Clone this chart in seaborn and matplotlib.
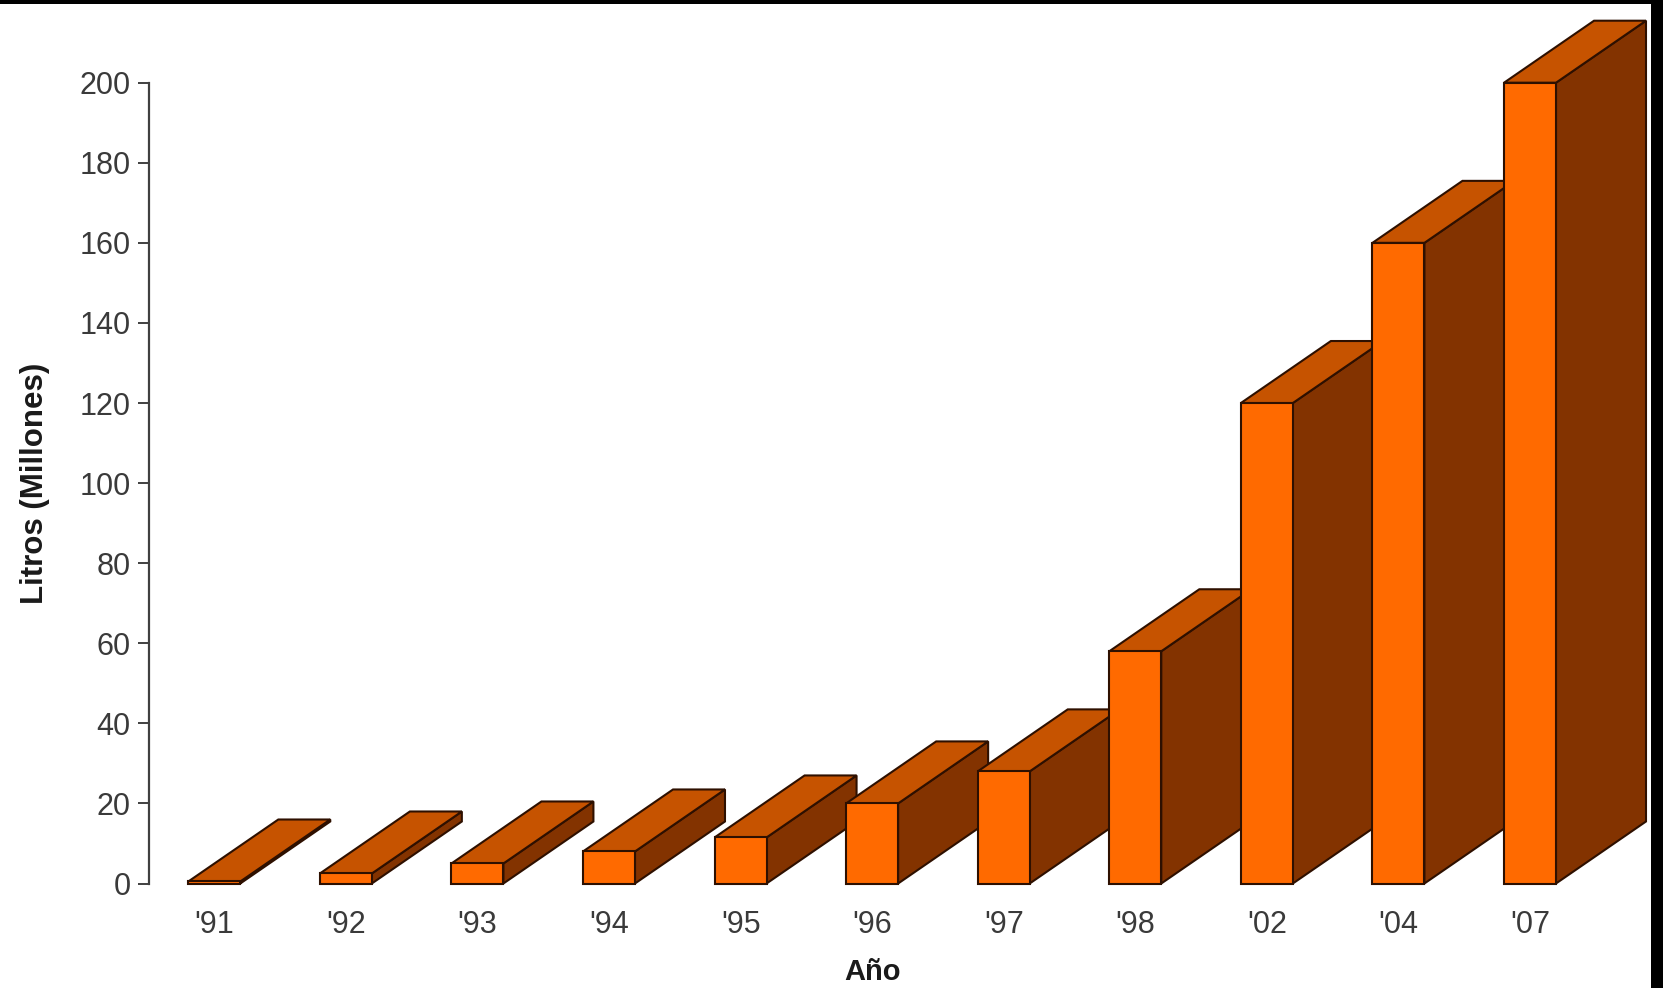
import matplotlib
matplotlib.use("Agg")
import matplotlib.pyplot as plt
import numpy as np
import pandas as pd
import seaborn as sns
from matplotlib.patches import Polygon, Rectangle

# Producción anual (millones de litros)
years = ["'91", "'92", "'93", "'94", "'95", "'96", "'97", "'98", "'02", "'04", "'07"]
litros = [0.5, 2.5, 5, 8, 11.5, 20, 28, 58, 120, 160, 200]
yticks = [0, 20, 40, 60, 80, 100, 120, 140, 160, 180, 200]

FRONT = "#FF6A00"
SIDE = "#833300"
TOP = "#C65300"
EDGE = "#2E1000"

sns.set_theme(style="white")
plt.rcParams["font.family"] = ["Liberation Sans", "DejaVu Sans"]

W, H, DPI = 1663, 988, 100
fig = plt.figure(figsize=(W / DPI, H / DPI), dpi=DPI)
fig.patch.set_facecolor("white")
ax = fig.add_axes([148.5 / W, 104.5 / H, 1447.3 / W, 800.8 / H])

df = pd.DataFrame({"Año": years, "Litros": litros})
sns.barplot(data=df, x="Año", y="Litros", color=FRONT, saturation=1,
            width=0.395, edgecolor=EDGE, linewidth=1.5, ax=ax)

ax.set_xlim(-0.5, len(years) - 0.5)
ax.set_ylim(0, 200)
ax.set_yticks(yticks)

# depth of the extruded boxes, given in pixels and converted to data units
depth_px = np.array([90.0, 62.0])
p0 = ax.transData.transform((0, 0))
p1 = ax.transData.transform((1, 1))
ddx, ddy = depth_px / (p1 - p0)

for i, bar in enumerate(ax.patches):
    x0 = bar.get_x()
    x1 = x0 + bar.get_width()
    h = bar.get_height()
    z = 2 + i * 0.1
    bar.set_zorder(z + 0.02)
    bar.set_clip_on(False)
    side = Polygon([(x1, 0), (x1, h), (x1 + ddx, h + ddy), (x1 + ddx, ddy)],
                   closed=True, facecolor=SIDE, edgecolor=EDGE, linewidth=1.5,
                   zorder=z, clip_on=False)
    top = Polygon([(x0, h), (x1, h), (x1 + ddx, h + ddy), (x0 + ddx, h + ddy)],
                  closed=True, facecolor=TOP, edgecolor=EDGE, linewidth=1.5,
                  zorder=z + 0.01, clip_on=False)
    ax.add_patch(side)
    ax.add_patch(top)

for s in ["top", "right", "bottom"]:
    ax.spines[s].set_visible(False)
ax.spines["left"].set_color("#404040")
ax.spines["left"].set_linewidth(1.6)

ax.tick_params(axis="y", left=True, length=8, width=1.4, color="#404040",
               pad=5, labelsize=22, labelcolor="#3a3a3a")
ax.tick_params(axis="x", bottom=False, length=0, pad=19, labelsize=22,
               labelcolor="#3a3a3a")

ax.set_ylabel("Litros (Millones)", fontsize=22.5, fontweight="bold", color="#1a1a1a")
ax.set_xlabel("Año", fontsize=21, fontweight="bold", color="#1a1a1a")
ax.yaxis.set_label_coords(-0.068, 0.5)
ax.xaxis.set_label_coords(0.5006, -0.093)

# dark frame along the top and right edges
fig.add_artist(Rectangle((0, 1 - 4 / H), 1, 4 / H, transform=fig.transFigure,
                         facecolor="black", edgecolor="none", zorder=10))
fig.add_artist(Rectangle((1651 / W, 0), 12 / W, 1, transform=fig.transFigure,
                         facecolor="black", edgecolor="none", zorder=10))

fig.savefig("out.png", dpi=DPI)
